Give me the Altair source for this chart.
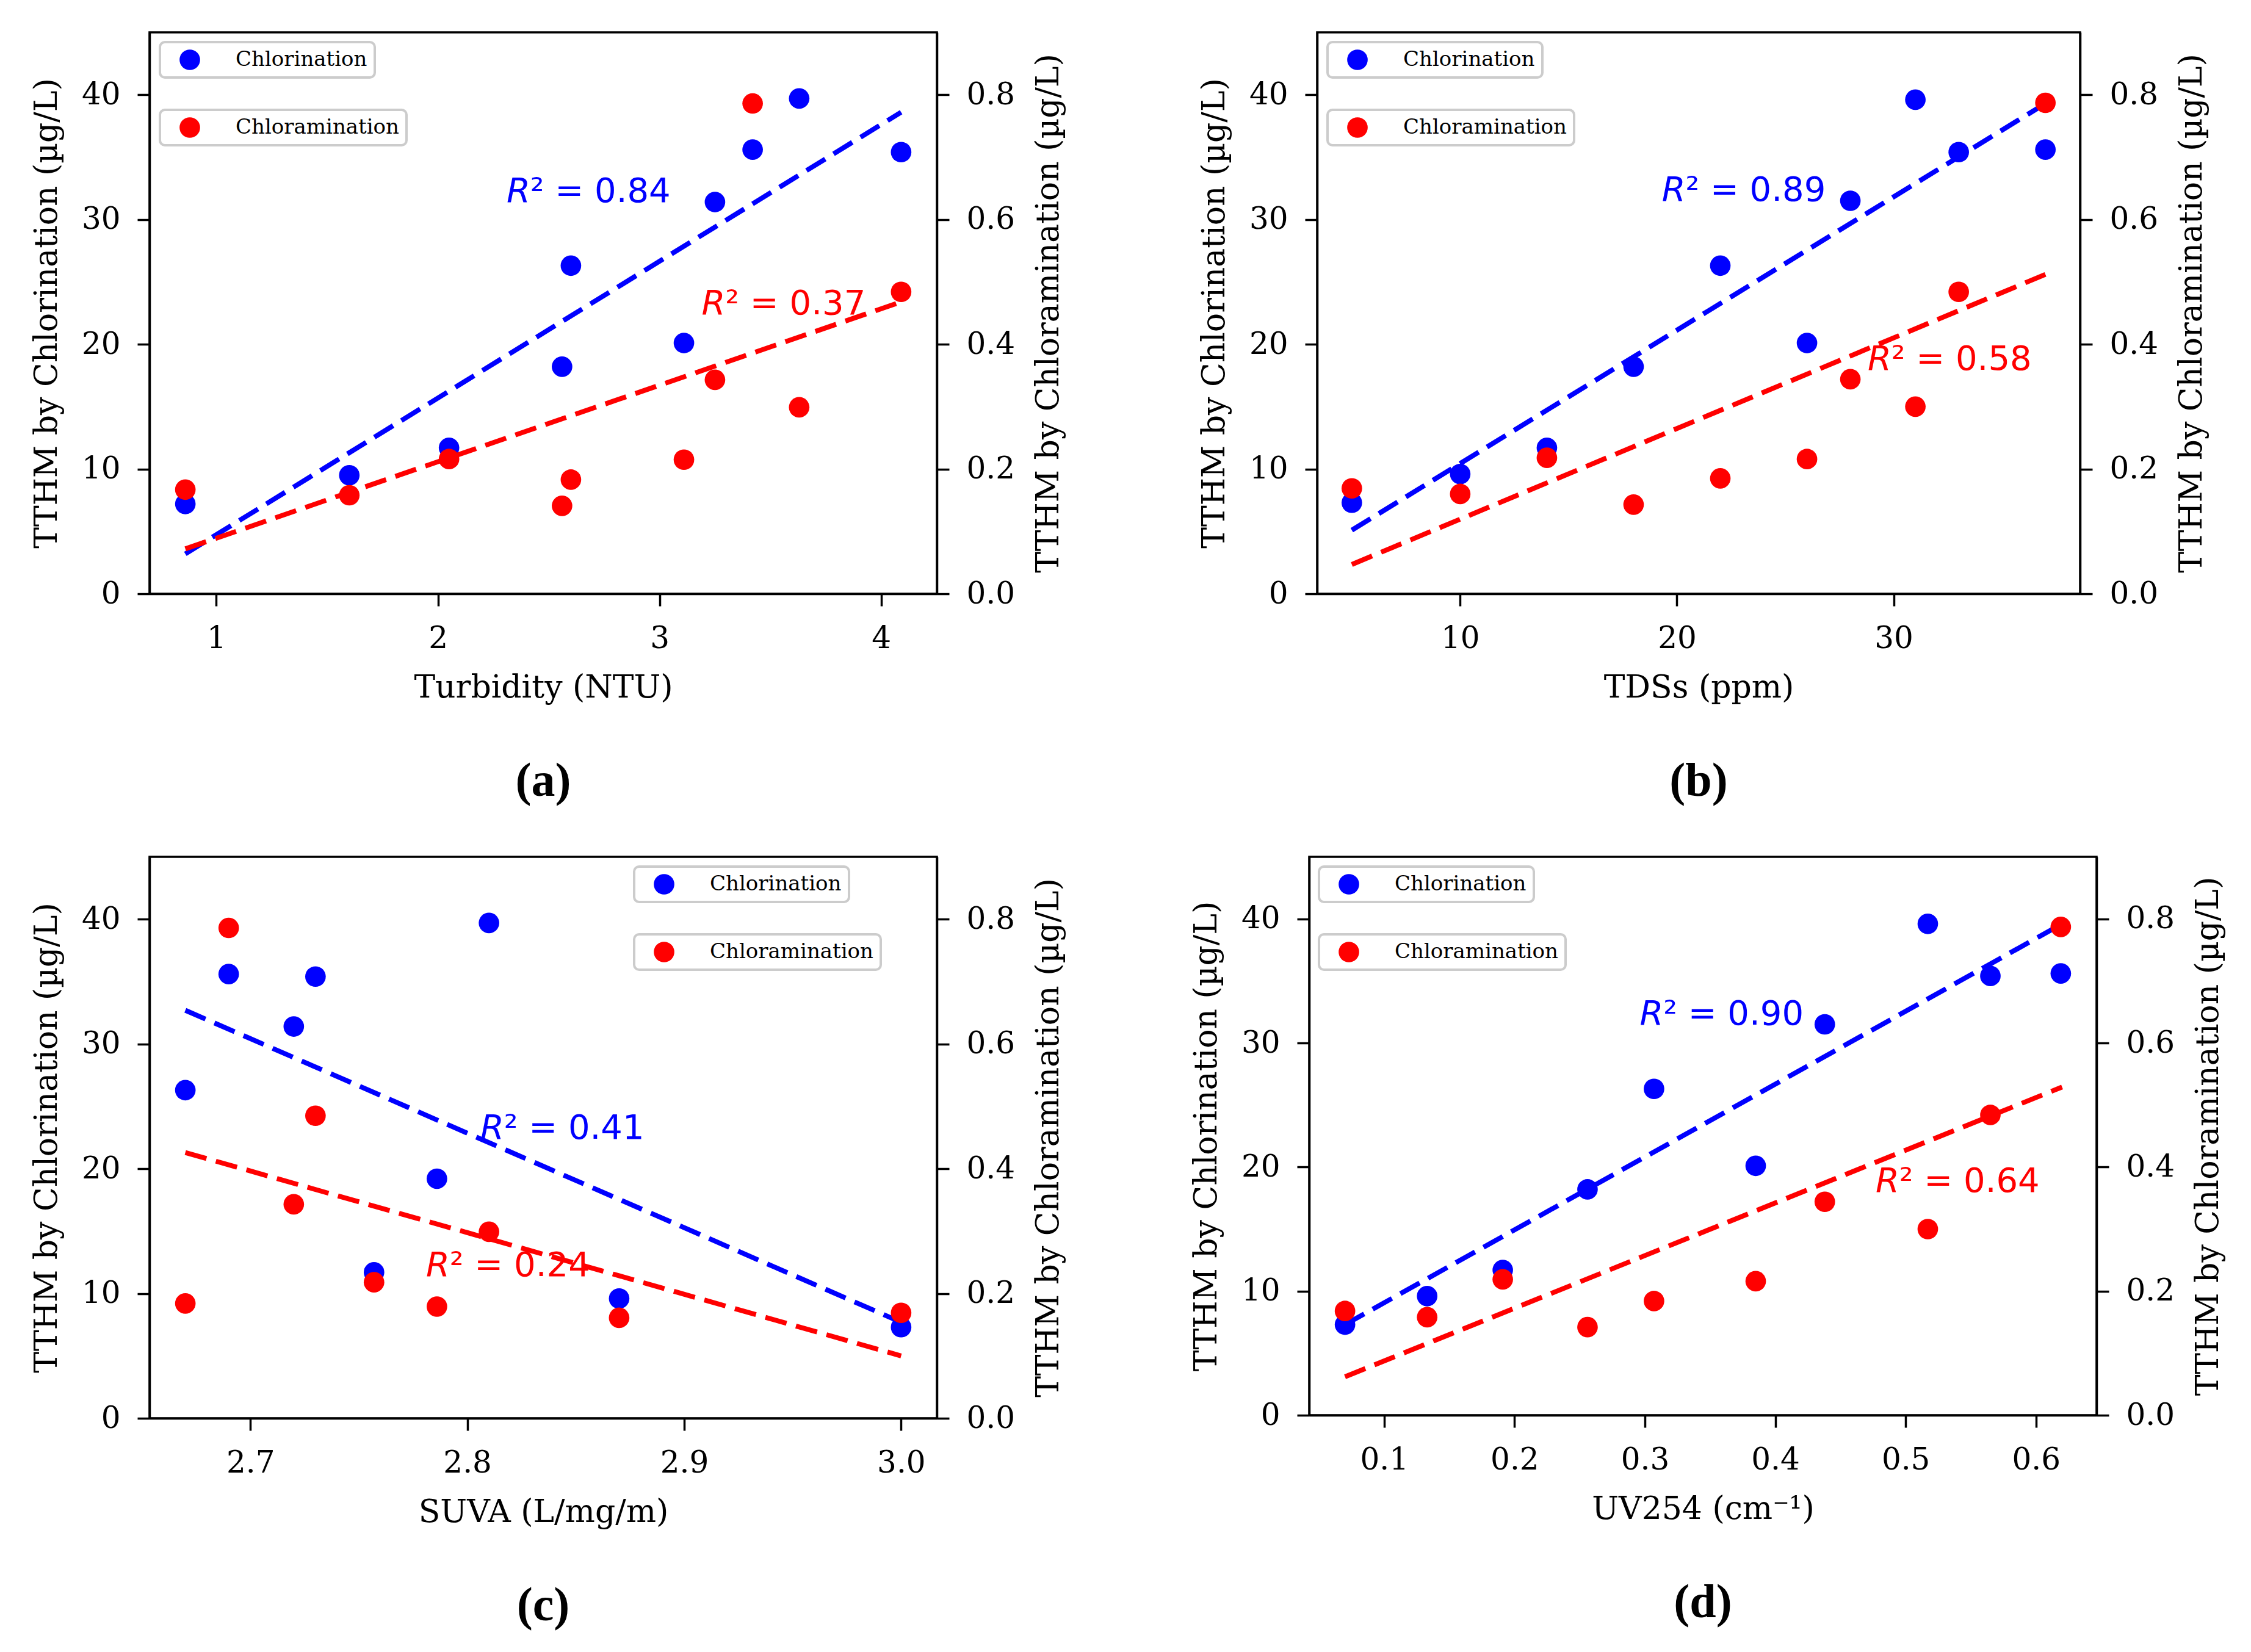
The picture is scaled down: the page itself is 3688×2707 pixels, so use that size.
import altair as alt
import pandas as pd

# ---------------- data ----------------
# (a) Turbidity
turbidity = [0.86, 1.60, 2.05, 2.56, 2.60, 3.11, 3.25, 3.42, 3.63, 4.09]
turbidity_chlorination = [7.2, 9.5, 11.7, 18.2, 26.3, 20.1, 31.4, 35.6, 39.7, 35.4]
turbidity_chloramination = [0.167, 0.158, 0.216, 0.141, 0.183, 0.215, 0.343, 0.786, 0.299, 0.484]
turbidity_fit_x = [0.86, 4.09]
turbidity_fit_chlorination = [3.2, 38.6]
turbidity_fit_chloramination = [0.072, 0.468]
turbidity_r2 = ["0.84", "0.37"]
turbidity_r2_x = [2.31, 3.19]
turbidity_r2_y = [31.4, 0.448]

# (b) TDSs
tds = [5, 10, 14, 18, 22, 26, 28, 31, 33, 37]
tds_chlorination = [7.3, 9.6, 11.7, 18.2, 26.3, 20.1, 31.5, 39.6, 35.4, 35.6]
tds_chloramination = [0.169, 0.160, 0.218, 0.143, 0.185, 0.216, 0.344, 0.300, 0.484, 0.787]
tds_fit_x = [5, 37]
tds_fit_chlorination = [5.1, 39.3]
tds_fit_chloramination = [0.047, 0.512]
tds_r2 = ["0.89", "0.58"]
tds_r2_x = [19.3, 28.8]
tds_r2_y = [31.5, 0.359]

# (c) SUVA
suva = [2.67, 2.69, 2.72, 2.73, 2.757, 2.786, 2.81, 2.87, 3.00]
suva_chlorination = [26.3, 35.6, 31.4, 35.4, 11.7, 19.2, 39.7, 9.6, 7.3]
suva_chloramination = [0.184, 0.786, 0.343, 0.485, 0.218, 0.179, 0.299, 0.161, 0.169]
suva_fit_x = [2.67, 3.00]
suva_fit_chlorination = [32.7, 7.7]
suva_fit_chloramination = [0.426, 0.100]
suva_r2 = ["0.41", "0.24"]
suva_r2_x = [2.806, 2.781]
suva_r2_y = [22.4, 0.228]

# (d) UV254
uv254 = [0.07, 0.133, 0.191, 0.256, 0.307, 0.385, 0.438, 0.517, 0.565, 0.619]
uv254_chlorination = [7.3, 9.6, 11.7, 18.2, 26.3, 20.1, 31.5, 39.6, 35.4, 35.6]
uv254_chloramination = [0.168, 0.158, 0.219, 0.142, 0.184, 0.216, 0.344, 0.300, 0.484, 0.787]
uv254_fit_x = [0.07, 0.62]
uv254_fit_chlorination = [7.3, 39.6]
uv254_fit_chloramination = [0.062, 0.529]
uv254_r2 = ["0.90", "0.64"]
uv254_r2_x = [0.296, 0.477]
uv254_r2_y = [31.5, 0.36]

left_ticks = [0, 10, 20, 30, 40]
right_ticks = [0.0, 0.2, 0.4, 0.6, 0.8]
series_names = ["Chlorination", "Chloramination"]

# ---------------- styling ----------------
SERIF = "DejaVu Serif"
SANS = "DejaVu Sans"
BLUE = "#0000ff"
RED = "#ff0000"
R2_SIZE = 56
PT_SIZE = 1134


def panel(x, blue, red, fit_x, fit_blue, fit_red, r2, r2_x, r2_y,
          xtitle, xticks, xfmt, width, height, legend_x, caption):
    lo, hi = min(x), max(x)
    m = 0.05 * (hi - lo)
    xs = alt.Scale(domain=[lo - m, hi + m], nice=False, zero=False)
    xaxis = alt.Axis(title=xtitle, values=xticks, format=xfmt)

    def X():
        return alt.X("x:Q", scale=xs, axis=xaxis)

    yl = alt.Y("y:Q", scale=alt.Scale(domain=[0, 45], nice=False, zero=False),
               axis=alt.Axis(title="TTHM by Chlorination (µg/L)", values=left_ticks,
                             format="d", orient="left"))
    yr = alt.Y("y:Q", scale=alt.Scale(domain=[0, 0.9], nice=False, zero=False),
               axis=alt.Axis(title="TTHM by Chloramination (µg/L)", values=right_ticks,
                             format=".1f", orient="right", titleAngle=270,
                             titleBaseline="top"))

    leg = dict(title=None, orient="none", legendX=legend_x, fillColor="white",
               strokeColor="#cccccc", cornerRadius=8, padding=12,
               symbolType="circle", symbolSize=PT_SIZE, symbolOffset=20,
               labelOffset=58, labelFont=SERIF, labelFontSize=34,
               labelColor="black", labelLimit=1000, symbolStrokeWidth=0,
               symbolOpacity=1)

    def layer_for(vals, fit_vals, name, color, yenc, r2_text, rx, ry, legend_y):
        pts = pd.DataFrame({"x": x, "y": vals, "series": [name] * len(x)})
        fit = pd.DataFrame({"x": fit_x, "y": fit_vals})
        txt = pd.DataFrame({"x": [rx], "y": [ry], "v": ["² = " + r2_text]})
        p = alt.Chart(pts).mark_circle(size=PT_SIZE, opacity=1).encode(
            x=X(), y=yenc,
            color=alt.Color("series:N",
                            scale=alt.Scale(domain=[name], range=[color]),
                            legend=alt.Legend(legendY=legend_y, **leg)))
        ln = alt.Chart(fit).mark_line(color=color, strokeWidth=8,
                                      strokeDash=[36, 16]).encode(x=X(), y=yenc)
        t1 = alt.Chart(txt).mark_text(text="R", font=SANS, fontStyle="italic",
                                      fontSize=R2_SIZE, align="left",
                                      baseline="alphabetic", color=color
                                      ).encode(x=X(), y=yenc)
        t2 = alt.Chart(txt).mark_text(font=SANS, fontSize=R2_SIZE, align="left",
                                      baseline="alphabetic", color=color, dx=39
                                      ).encode(x=X(), y=yenc, text="v:N")
        return alt.layer(p, ln, t1, t2)

    left = layer_for(blue, fit_blue, series_names[0], BLUE, yl, r2[0], r2_x[0], r2_y[0], 16)
    right = layer_for(red, fit_red, series_names[1], RED, yr, r2[1], r2_x[1], r2_y[1], 127)
    return alt.layer(left, right).resolve_scale(
        y="independent", color="independent"
    ).resolve_legend(color="independent").properties(
        width=width, height=height,
        title=alt.TitleParams(caption, orient="bottom", anchor="middle",
                              font="Liberation Serif", fontSize=78,
                              fontWeight="bold", color="black", offset=90))


pa = panel(turbidity, turbidity_chlorination, turbidity_chloramination,
           turbidity_fit_x, turbidity_fit_chlorination, turbidity_fit_chloramination,
           turbidity_r2, turbidity_r2_x, turbidity_r2_y,
           "Turbidity (NTU)", [1, 2, 3, 4], "d", 1290, 920, 17, "(a)")
pb = panel(tds, tds_chlorination, tds_chloramination,
           tds_fit_x, tds_fit_chlorination, tds_fit_chloramination,
           tds_r2, tds_r2_x, tds_r2_y,
           "TDSs (ppm)", [10, 20, 30], "d", 1250, 920, 17, "(b)")
pc = panel(suva, suva_chlorination, suva_chloramination,
           suva_fit_x, suva_fit_chlorination, suva_fit_chloramination,
           suva_r2, suva_r2_x, suva_r2_y,
           "SUVA (L/mg/m)", [2.7, 2.8, 2.9, 3.0], ".1f", 1290, 920, 794, "(c)")
pd_ = panel(uv254, uv254_chlorination, uv254_chloramination,
            uv254_fit_x, uv254_fit_chlorination, uv254_fit_chloramination,
            uv254_r2, uv254_r2_x, uv254_r2_y,
            "UV254 (cm⁻¹)", [0.1, 0.2, 0.3, 0.4, 0.5, 0.6], ".1f", 1290, 915, 16, "(d)")

chart = alt.vconcat(
    alt.hconcat(pa, pb, spacing=215),
    alt.hconcat(pc, pd_, spacing=202),
    spacing=80,
).properties(
    padding={"left": 40, "top": 43, "right": 5, "bottom": 5},
    background="white",
).configure_view(
    stroke="black", strokeWidth=3.5
).configure_axis(
    labelFont=SERIF, labelFontSize=50, labelColor="black",
    titleFont=SERIF, titleFontSize=52, titleFontWeight="normal", titleColor="black",
    domainColor="black", domainWidth=3.5, tickColor="black", tickWidth=3.5,
    tickSize=20, labelPadding=28, titlePadding=30, grid=False,
    labelFlush=False, labelOverlap=False
).configure_legend(
    strokeWidth=4
)

chart.save("out.html", embed_options={"renderer": "svg", "actions": False})
